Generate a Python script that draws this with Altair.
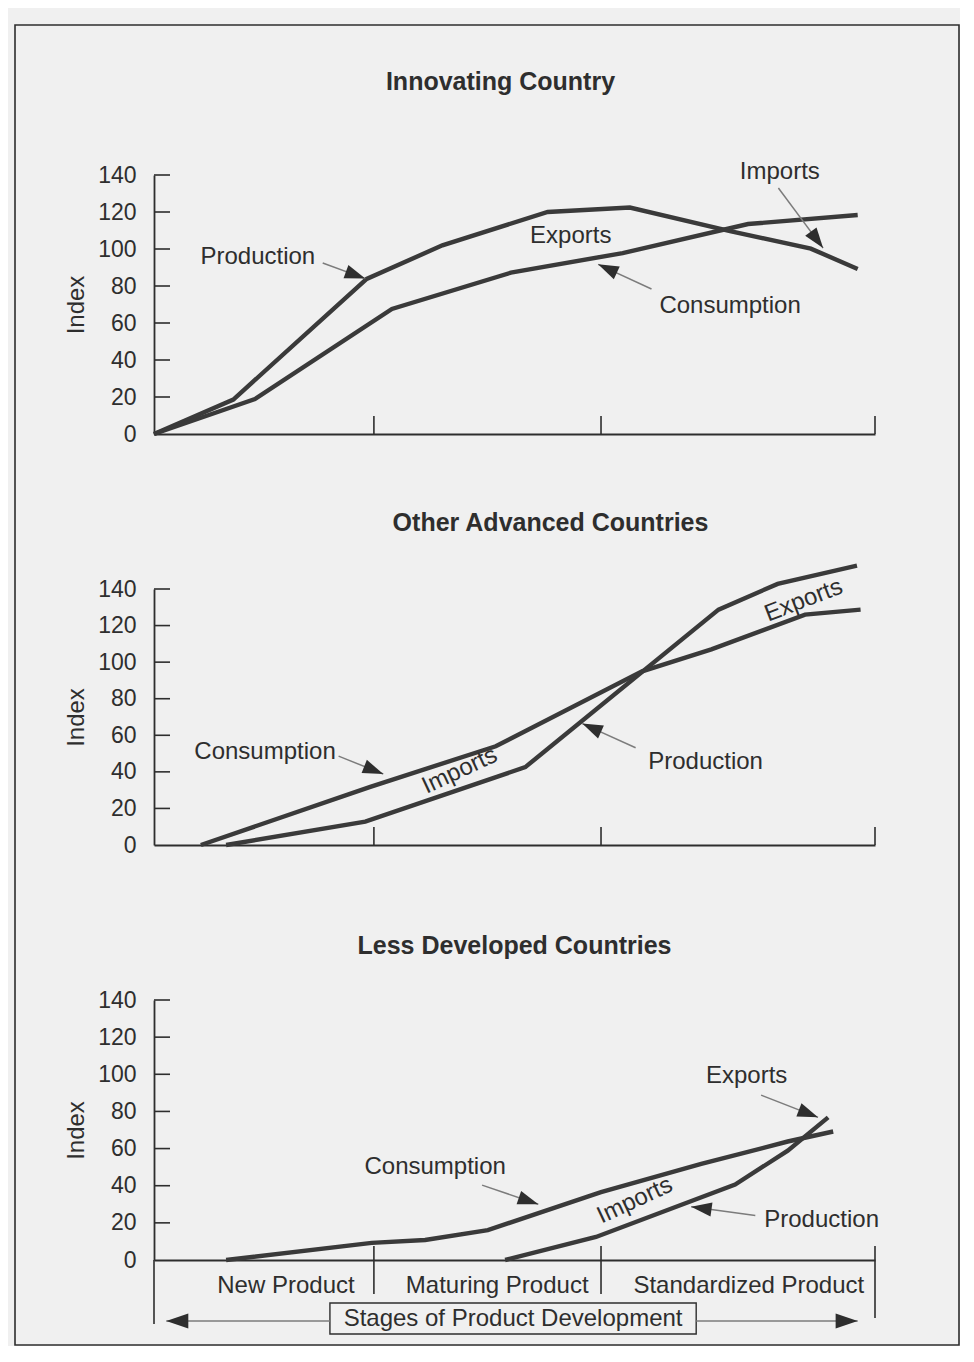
import math
import altair as alt
import pandas as pd

FONT = "Liberation Sans"
INK = "#2e2e2e"
LINE_INK = "#3a3a3a"
SHAFT = "#7c7c7c"
BG = "#f0f0f0"
FS = 24
TICK_FS = 23
TITLE_FS = 25

W = 721
HEIGHTS = [259, 256, 260]
SPACING = 155
X_DOMAIN = [0, 100]
Y_DOMAIN = [0, 140]
Y_TICKS = [0, 20, 40, 60, 80, 100, 120, 140]
STAGE_TICKS = [30.5, 62, 100]

# ---------------- Innovating Country ----------------
ic_production_x = [0, 11, 29.5, 40, 54.6, 66, 79.9, 91.1, 97.6]
ic_production_y = [0, 18.6, 83.8, 102, 120, 122.4, 109.7, 100.2, 89.2]
ic_consumption_x = [0, 14, 33, 49.5, 65, 82.4, 97.6]
ic_consumption_y = [0, 18.9, 67.6, 87.2, 97.8, 113.5, 118.4]
ic_label_text = ["Production", "Exports", "Consumption", "Imports"]
ic_label_x = [14.4, 57.8, 79.9, 86.8]
ic_label_y = [95.6, 106.8, 69.0, 141.7]
ic_label_angle = [0, 0, 0, 0]
ic_arrow_x1 = [23.4, 69.0, 86.6]
ic_arrow_y1 = [92.4, 78.4, 133.0]
ic_arrow_x2 = [29.3, 61.6, 92.8]
ic_arrow_y2 = [84.0, 91.7, 100.5]

# ---------------- Other Advanced Countries ----------------
oa_production_x = [10, 29.3, 51.5, 78.3, 86.5, 97.5]
oa_production_y = [0, 12.8, 42.6, 128.7, 142.8, 152.8]
oa_consumption_x = [6.5, 30, 47.4, 67.7, 77.3, 90.3, 98]
oa_consumption_y = [0, 31.8, 54, 95, 107, 126, 128.7]
oa_label_text = ["Consumption", "Imports", "Production", "Exports"]
oa_label_x = [15.4, 42.4, 76.5, 90.1]
oa_label_y = [50.6, 40.6, 45.3, 133.7]
oa_label_angle = [0, 335, 0, 339]
oa_arrow_x1 = [25.6, 66.8]
oa_arrow_y1 = [48.6, 53.2]
oa_arrow_x2 = [31.8, 59.4]
oa_arrow_y2 = [38.8, 66.4]

# ---------------- Less Developed Countries ----------------
ld_consumption_x = [10, 30.2, 37.6, 46.3, 62, 75.9, 87.9, 94.2]
ld_consumption_y = [0, 9.2, 10.8, 16.1, 36.5, 51.7, 63.8, 69.2]
ld_production_x = [48.7, 61.3, 80.6, 87.9, 93.5]
ld_production_y = [0, 12.4, 40.6, 58.9, 76.8]
ld_label_text = ["Consumption", "Imports", "Production", "Exports"]
ld_label_x = [39.0, 66.7, 92.6, 82.2]
ld_label_y = [50.0, 32.0, 21.5, 99.0]
ld_label_angle = [0, 335, 0, 0]
ld_arrow_x1 = [45.5, 83.4, 84.2]
ld_arrow_y1 = [40.3, 23.9, 88.8]
ld_arrow_x2 = [53.3, 74.5, 92.1]
ld_arrow_y2 = [30.0, 28.7, 76.8]

stage_names = ["New Product", "Maturing Product", "Standardized Product"]
stage_label_x = [18.3, 47.6, 82.5]
stage_box_x = [24.4, 75.2]
stage_arrow_tip_x = [1.7, 97.6]
stage_caption = "Stages of Product Development"

HEAD = "M0,0L0.62,1.8L-0.62,1.8Z"  # arrow head, tip at origin, pointing up


def head_angle(x1, y1, x2, y2, sx, sy):
    dxp = (x2 - x1) * sx
    dyp = -(y2 - y1) * sy
    return math.degrees(math.atan2(dxp, -dyp)) % 360


def panel(idx, title, title_dx, title_y, series, labels, arrows, lower=False, frame=False):
    H = HEIGHTS[idx]
    xs = alt.Scale(domain=X_DOMAIN, nice=False, zero=False)
    ys = alt.Scale(domain=Y_DOMAIN, nice=False, zero=False)
    xa = alt.Axis(labels=False, ticks=False, title=None, grid=False)
    ya = alt.Axis(values=Y_TICKS, ticks=False, grid=False, title="Index",
                  labelPadding=18, titlePadding=9)
    sx = W / (X_DOMAIN[1] - X_DOMAIN[0])
    sy = H / (Y_DOMAIN[1] - Y_DOMAIN[0])

    def X(f):
        return alt.X(f, scale=xs, axis=xa)

    def Y(f):
        return alt.Y(f, scale=ys, axis=ya)

    layers = []

    if frame:
        layers.append(
            alt.Chart(pd.DataFrame({"f": [0]}))
            .mark_rect(filled=False, color=INK, strokeWidth=1.6)
            .encode(x=alt.value(-139), x2=alt.value(805), y=alt.value(-150), y2=alt.value(1170))
        )

    rows = []
    for name, (xv, yv) in series.items():
        for a, b in zip(xv, yv):
            rows.append({"series": name, "x": a, "y": b})
    line_df = pd.DataFrame(rows)
    layers.append(
        alt.Chart(line_df)
        .mark_line(color=LINE_INK, strokeWidth=4.4, strokeJoin="miter")
        .encode(x=X("x:Q"), y=Y("y:Q"), detail="series:N")
    )

    # inward y ticks
    layers.append(
        alt.Chart(pd.DataFrame({"v": Y_TICKS[1:]}))
        .mark_rule(color=INK, strokeWidth=1.6)
        .encode(y=Y("v:Q"), x=alt.value(0), x2=alt.value(16))
    )

    # stage ticks on x axis
    if not lower:
        layers.append(
            alt.Chart(pd.DataFrame({"v": STAGE_TICKS}))
            .mark_rule(color=INK, strokeWidth=1.6)
            .encode(x=X("v:Q"), y=alt.value(H), y2=alt.value(H - 18))
        )
    else:
        layers.append(
            alt.Chart(pd.DataFrame({"v": STAGE_TICKS[:2]}))
            .mark_rule(color=INK, strokeWidth=1.6)
            .encode(x=X("v:Q"), y=alt.value(H - 14), y2=alt.value(H + 34))
        )
        layers.append(
            alt.Chart(pd.DataFrame({"v": STAGE_TICKS[2:]}))
            .mark_rule(color=INK, strokeWidth=1.6)
            .encode(x=X("v:Q"), y=alt.value(H - 14), y2=alt.value(H + 58))
        )
        # y-axis extension
        layers.append(
            alt.Chart(pd.DataFrame({"f": [0]}))
            .mark_rule(color=INK, strokeWidth=1.6)
            .encode(x=alt.value(0), y=alt.value(H), y2=alt.value(H + 64))
        )
        layers.append(
            alt.Chart(pd.DataFrame({"text": stage_names, "x": stage_label_x}))
            .mark_text(font=FONT, fontSize=FS, color=INK, align="center", baseline="middle")
            .encode(x=X("x:Q"), y=alt.value(H + 26), text="text:N")
        )
        # caption box
        layers.append(
            alt.Chart(pd.DataFrame({"x": [stage_box_x[0]], "x2": [stage_box_x[1]]}))
            .mark_rect(filled=False, color=INK, strokeWidth=1.4)
            .encode(x=X("x:Q"), x2="x2:Q", y=alt.value(H + 43), y2=alt.value(H + 74))
        )
        layers.append(
            alt.Chart(pd.DataFrame({"text": [stage_caption],
                                    "x": [(stage_box_x[0] + stage_box_x[1]) / 2]}))
            .mark_text(font=FONT, fontSize=FS, color=INK, align="center", baseline="middle")
            .encode(x=X("x:Q"), y=alt.value(H + 59), text="text:N")
        )
        arr = pd.DataFrame({"x": [stage_box_x[0], stage_box_x[1]],
                            "x2": stage_arrow_tip_x, "ang": [270, 90]})
        layers.append(
            alt.Chart(arr).mark_rule(color=SHAFT, strokeWidth=1.5)
            .encode(x=X("x:Q"), x2="x2:Q", y=alt.value(H + 61))
        )
        layers.append(
            alt.Chart(arr).mark_point(shape=HEAD, filled=True, color=INK, opacity=1, size=600)
            .encode(x=X("x2:Q"), y=alt.value(H + 61), angle=alt.Angle("ang:Q", scale=None))
        )

    # annotation arrows
    ax1, ay1, ax2, ay2 = arrows
    adf = pd.DataFrame({"x1": ax1, "y1": ay1, "x2": ax2, "y2": ay2})
    adf["ang"] = [head_angle(a, b, c, d, sx, sy) for a, b, c, d in zip(ax1, ay1, ax2, ay2)]
    layers.append(
        alt.Chart(adf).mark_rule(color=SHAFT, strokeWidth=1.5)
        .encode(x=X("x1:Q"), y=Y("y1:Q"), x2="x2:Q", y2="y2:Q")
    )
    layers.append(
        alt.Chart(adf).mark_point(shape=HEAD, filled=True, color=INK, opacity=1, size=520)
        .encode(x=X("x2:Q"), y=Y("y2:Q"), angle=alt.Angle("ang:Q", scale=None))
    )

    # labels
    lt, lx, ly, la = labels
    ldf = pd.DataFrame({"text": lt, "x": lx, "y": ly, "angle": la})
    layers.append(
        alt.Chart(ldf)
        .mark_text(font=FONT, fontSize=FS, color=INK, align="center", baseline="middle")
        .encode(x=X("x:Q"), y=Y("y:Q"), text="text:N", angle=alt.Angle("angle:Q", scale=None))
    )

    # panel title
    layers.append(
        alt.Chart(pd.DataFrame({"t": [title]}))
        .mark_text(font=FONT, fontSize=TITLE_FS, fontWeight="bold", color=INK,
                   align="center", baseline="alphabetic")
        .encode(text="t:N", x=alt.value(W / 2 + title_dx), y=alt.value(title_y))
    )

    return alt.layer(*layers).properties(width=W, height=H)


p1 = panel(0, "Innovating Country", -14, -85,
           {"Production": (ic_production_x, ic_production_y),
            "Consumption": (ic_consumption_x, ic_consumption_y)},
           (ic_label_text, ic_label_x, ic_label_y, ic_label_angle),
           (ic_arrow_x1, ic_arrow_y1, ic_arrow_x2, ic_arrow_y2), frame=True)
p2 = panel(1, "Other Advanced Countries", 36, -58,
           {"Production": (oa_production_x, oa_production_y),
            "Consumption": (oa_consumption_x, oa_consumption_y)},
           (oa_label_text, oa_label_x, oa_label_y, oa_label_angle),
           (oa_arrow_x1, oa_arrow_y1, oa_arrow_x2, oa_arrow_y2))
p3 = panel(2, "Less Developed Countries", 0, -46,
           {"Production": (ld_production_x, ld_production_y),
            "Consumption": (ld_consumption_x, ld_consumption_y)},
           (ld_label_text, ld_label_x, ld_label_y, ld_label_angle),
           (ld_arrow_x1, ld_arrow_y1, ld_arrow_x2, ld_arrow_y2), lower=True)

chart = (
    alt.vconcat(p1, p2, p3, spacing=SPACING, bounds="flush",
                padding={"left": 6, "top": 16, "right": 0, "bottom": 0},
                background=BG)
    .configure_view(stroke=None)
    .configure_axis(labelFont=FONT, titleFont=FONT, labelFontSize=TICK_FS, titleFontSize=24,
                    titleFontWeight="normal", labelColor=INK, titleColor=INK,
                    domainColor=INK, domainWidth=1.8)
)

chart.save("out.html", embed_options={"renderer": "svg", "actions": False})
